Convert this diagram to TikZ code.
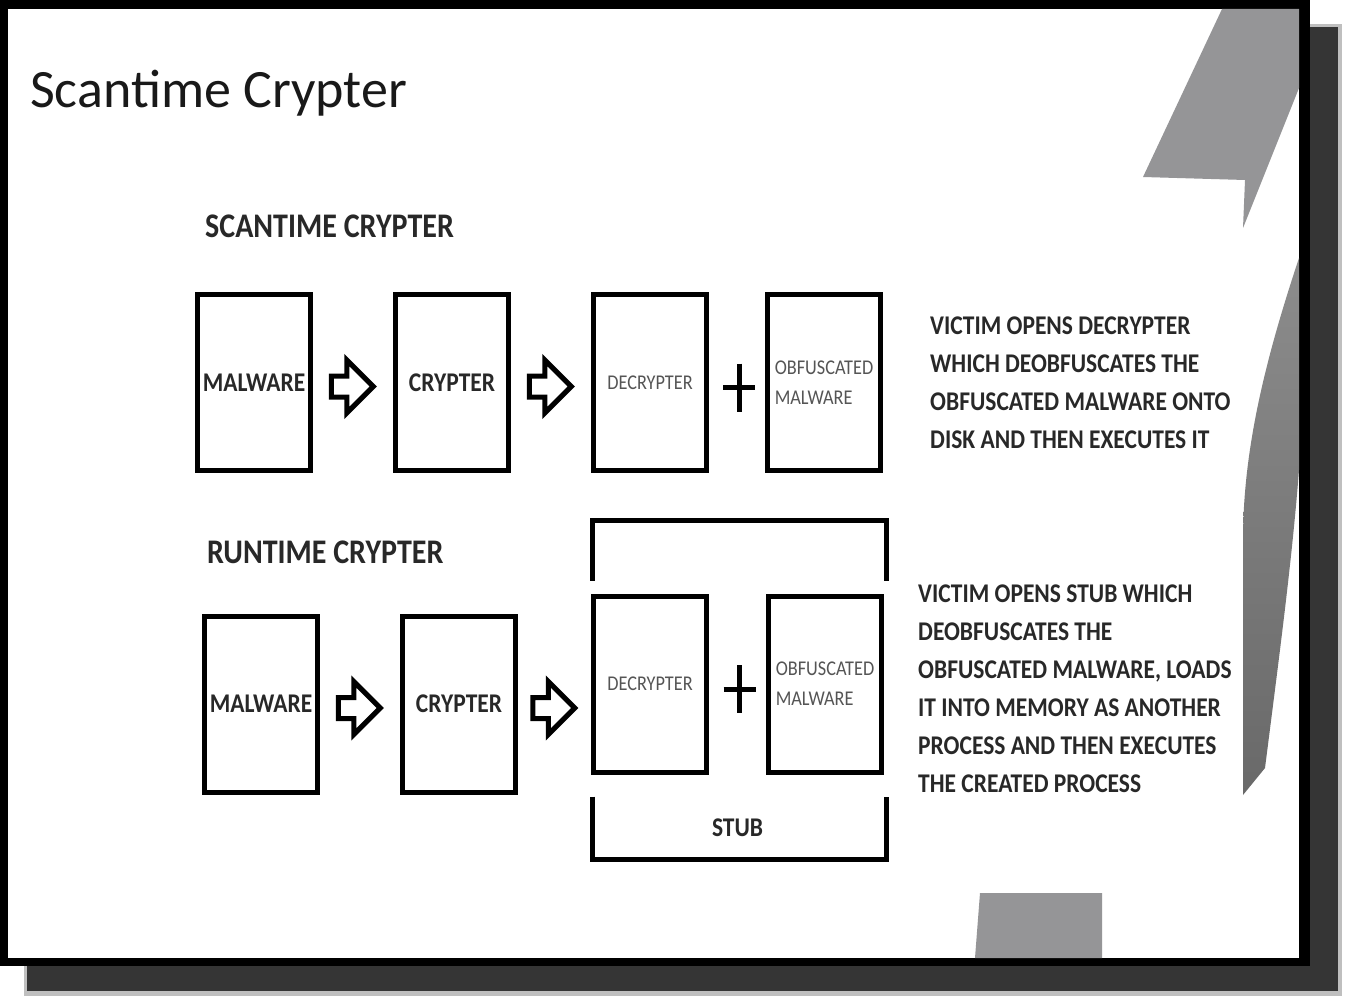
\documentclass[tikz,border=0pt]{standalone}
\usepackage{fontspec}
\setmainfont{Carlito}
\newfontfamily\slidefont[FakeStretch=0.87]{Carlito}
\usetikzlibrary{positioning, calc, shapes.arrows}
\definecolor{shadowgrey}{RGB}{53,53,53}
\definecolor{decogrey}{RGB}{149,149,151}
\definecolor{inkgrey}{RGB}{40,40,40}
\definecolor{faintgrey}{RGB}{85,85,85}

\begin{document}
\begin{tikzpicture}[
    x=1pt, y=-1pt,
    node distance=80pt,
    filebox/.style={rectangle, draw, line width=5pt, minimum width=113pt, minimum height=176pt, inner sep=0pt, align=center, text=inkgrey, font=\slidefont\bfseries\fontsize{27}{30}\selectfont},
    smallbox/.style={filebox, align=left, text=faintgrey, font=\slidefont\fontsize{21}{30}\selectfont},
    blockarrow/.style={single arrow, draw, fill=white, line width=5pt, inner xsep=0pt, inner ysep=8pt, minimum height=42pt, single arrow head extend=16pt, xshift=-6pt, yshift=-4pt},
    plusline/.style={line width=5pt},
    bracketline/.style={line width=5pt},
    heading/.style={anchor=base west, inner sep=0pt, text=inkgrey, font=\slidefont\bfseries\fontsize{34.5}{36}\selectfont},
    note/.style={anchor=north west, inner sep=0pt, align=left, text=inkgrey, font=\slidefont\bfseries\fontsize{27}{38}\selectfont},
    boxlabel/.style={inner sep=0pt, text=inkgrey, font=\slidefont\bfseries\fontsize{27}{30}\selectfont},
]
\useasboundingbox (0,0) rectangle (1346,1000);

% slide with frame and shadow
\fill[gray!50] (24,24) rectangle (1342,996);
\fill[shadowgrey] (27,27) rectangle (1338,991);
\fill[black] (0,0) rectangle (1310,966);
\fill[white] (8,9) rectangle (1299,958);

% grey decoration
\fill[decogrey] (1222,9) -- (1299,9) -- (1299,88) -- (1243,228) -- (1245,180) -- (1143,177) -- cycle;
\shade[top color={rgb,255:red,140;green,140;blue,140}, bottom color={rgb,255:red,105;green,105;blue,105}]
    (1299,258) .. controls (1265,360) and (1243,450) .. (1243,540) -- (1243,795) -- (1265,768)
    .. controls (1280,650) and (1292,560) .. (1299,470) -- cycle;
\fill[decogrey] (980,893) -- (1102,893) -- (1102,958) -- (975,958) -- cycle;

\node[anchor=base west, inner sep=0pt, text=black!90, font=\fontsize{54}{60}\selectfont] (title) at (30,108) {Scantime Crypter};

% scantime row
\node[heading] (scanhead) at (205,238) {SCANTIME CRYPTER};
\node[filebox] (malwareA) at (254,382.5) {MALWARE};
\node[filebox, right=of malwareA] (crypterA) {CRYPTER};
\node[smallbox, right=of crypterA] (decrypterA) {DECRYPTER};
\node[smallbox, right=56pt of decrypterA] (obfA) {OBFUSCATED\\MALWARE};

\node[blockarrow] (arrowA1) at ($(malwareA.east)!0.5!(crypterA.west)$) {};
\node[blockarrow] (arrowA2) at ($(crypterA.east)!0.5!(decrypterA.west)$) {};
\draw[plusline] ($(decrypterA.east)!0.5!(obfA.west)+(2,5)$) +(0,-24) -- +(0,24) +(-16,0) -- +(16,0);

\node[note] (scannote) at (930,317) {VICTIM OPENS DECRYPTER\\WHICH DEOBFUSCATES THE\\OBFUSCATED MALWARE ONTO\\DISK AND THEN EXECUTES IT};

% runtime row
\node[heading] (runhead) at (207,563) {RUNTIME CRYPTER};
\node[filebox] (malwareB) at (261,704) {MALWARE};
\node[filebox, right=of malwareB] (crypterB) {CRYPTER};
\node[smallbox, right=73pt of crypterB, yshift=20pt] (decrypterB) {DECRYPTER};
\node[smallbox, right=57pt of decrypterB] (obfB) {OBFUSCATED\\MALWARE};

\node[blockarrow] (arrowB1) at ($(malwareB.east)!0.5!(crypterB.west)$) {};
\node[blockarrow] (arrowB2) at ($(crypterB.east)!0.5!(decrypterB.west |- crypterB.east)$) {};
\draw[plusline] ($(decrypterB.east)!0.5!(obfB.west)+(2,5)$) +(0,-24) -- +(0,24) +(-16,0) -- +(16,0);

\draw[bracketline] ([xshift=1pt,yshift=13pt]decrypterB.north west) |- ([xshift=2.5pt,yshift=73pt]obfB.north east) -- ([xshift=2.5pt,yshift=13pt]obfB.north east);
\draw[bracketline] ([xshift=1pt,yshift=-22pt]decrypterB.south west) |- ([xshift=2.5pt,yshift=-85pt]obfB.south east) -- ([xshift=2.5pt,yshift=-22pt]obfB.south east);
\node[boxlabel] (stub) at ($(decrypterB.south west)!0.5!(obfB.south east)+(0,53)$) {STUB};

\node[note] (runnote) at (918,585) {VICTIM OPENS STUB WHICH\\DEOBFUSCATES THE\\OBFUSCATED MALWARE, LOADS\\IT INTO MEMORY AS ANOTHER\\PROCESS AND THEN EXECUTES\\THE CREATED PROCESS};

\end{tikzpicture}
\end{document}
